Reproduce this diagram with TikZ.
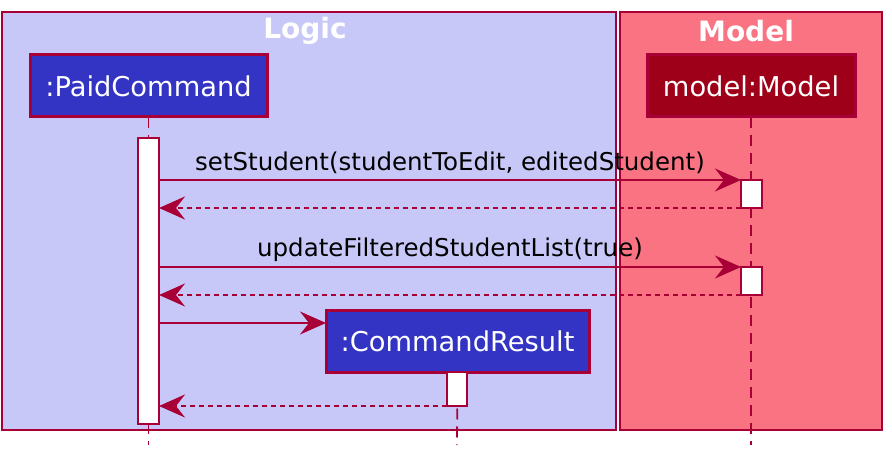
\documentclass[tikz,border=0pt]{standalone}
\usepackage{fontspec}
\setmainfont{DejaVu Sans}
\usetikzlibrary{arrows.meta}
\definecolor{umlred}{HTML}{A80036}
\definecolor{logicbg}{HTML}{C8C8F8}
\definecolor{modelbg}{HTML}{F97383}
\definecolor{partblue}{HTML}{3434C4}
\definecolor{partred}{HTML}{9E0019}
\tikzset{
  frame/.style={draw=umlred, line width=1.8pt, inner sep=0pt, outer sep=0pt, anchor=north west},
  frametitle/.style={text=white, font=\fontsize{28}{32}\selectfont\bfseries, inner sep=0pt},
  part/.style={draw=umlred, line width=3pt, text=white, inner sep=0pt, outer sep=0pt,
    minimum height=62pt, font=\fontsize{27.3}{31}\selectfont},
  actbar/.style={draw=umlred, fill=white, line width=1.8pt, minimum width=21pt, inner sep=0pt, outer sep=0pt},
  lifeline/.style={draw=umlred, line width=1.8pt, dash pattern=on 11pt off 7pt},
  msg/.style={draw=umlred, line width=1.8pt, -{Stealth[length=26pt, width=23pt, inset=9pt, umlred]}},
  ret/.style={msg, dash pattern=on 5pt off 4pt},
  msglabel/.style={font=\fontsize{24.5}{28}\selectfont, inner sep=0pt, above=5pt}
}
\begin{document}
\begin{tikzpicture}[x=1pt, y=-1pt]
\useasboundingbox (0,0) rectangle (892,454);
% frames
\node[frame, fill=logicbg, minimum width=614pt, minimum height=418pt] (logic) at (2,12) {};
\node[frame, fill=modelbg, minimum width=262pt, minimum height=418pt] (model) at (620,12) {};
\node[frametitle] (logictitle) at (305,31) {Logic};
\node[frametitle] (modeltitle) at (746,31) {Model};
% participants
\node[part, fill=partblue, minimum width=237pt] (pc) at (148.5,86) {:PaidCommand};
\node[part, fill=partred, minimum width=208pt] (mm) at (751,86) {model:Model};
\node[part, fill=partblue, minimum width=263pt] (cr) at (457.5,341.5) {:CommandResult};
% lifeline ends
\coordinate (pcend) at (148.5,445);
\coordinate (mmend) at (751,445);
\coordinate (crend) at (457,445);
\draw[lifeline] (pc.south) -- (pcend);
\draw[lifeline] (mm.south) -- (mmend);
\draw[lifeline] (cr.south) -- (crend);
% activations
\node[actbar, minimum height=286pt] (pcact) at (148.5,281) {};
\node[actbar, minimum height=28pt] (mact1) at (751.5,194) {};
\node[actbar, minimum height=28pt] (mact2) at (751.5,281) {};
\node[actbar, minimum width=20pt, minimum height=34pt] (cract) at (457,389) {};
% messages
\draw[msg] (pcact.east |- mact1.north) -- node[msglabel] {setStudent(studentToEdit, editedStudent)} (mact1.north west);
\draw[ret] (mact1.south west) -- (pcact.east |- mact1.south);
\draw[msg] (pcact.east |- mact2.north) -- node[msglabel] {updateFilteredStudentList(true)} (mact2.north west);
\draw[ret] (mact2.south west) -- (pcact.east |- mact2.south);
\coordinate (crin) at (pcact.east |- 0,323);
\draw[msg] (crin) -- (cr.west |- crin);
\draw[ret] (cract.south west) -- (pcact.east |- cract.south);
\end{tikzpicture}
\end{document}
